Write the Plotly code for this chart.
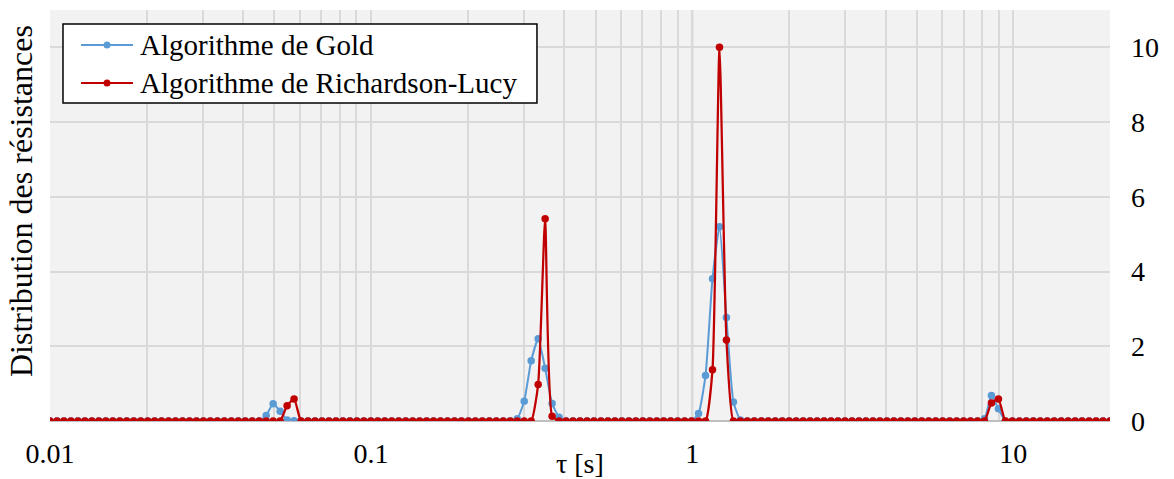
import numpy as np
import plotly.graph_objects as go

# sampling grid: evenly spaced in log(tau), 153 points from 0.01 s to 20 s
n_points = 153
tau = np.logspace(-2, np.log10(20), n_points)

# nonzero samples (index in grid, value); all other samples are 0
gold_idx = [31, 32, 33, 34, 35,
            67, 68, 69, 70, 71, 72, 73,
            93, 94, 95, 96, 97, 98, 99,
            134, 135, 136]
gold_val = [0.15, 0.46, 0.26, 0.03, 0.01,
            0.06, 0.53, 1.61, 2.20, 1.41, 0.47, 0.10,
            0.20, 1.22, 3.81, 5.20, 2.77, 0.51, 0.03,
            0.06, 0.68, 0.33]

rl_idx = [34, 35,
          70, 71, 72,
          95, 96, 97,
          135, 136]
rl_val = [0.41, 0.59,
          0.98, 5.41, 0.13,
          1.37, 10.0, 2.17,
          0.48, 0.59]

series_names = ["Algorithme de Gold", "Algorithme de Richardson-Lucy"]
x_tickvals = [0.01, 0.1, 1, 10]
x_ticktext = ["0.01", "0.1", "1", "10"]
y_tickvals = [0, 2, 4, 6, 8, 10]

gold = np.zeros(n_points)
gold[gold_idx] = gold_val
rl = np.zeros(n_points)
rl[rl_idx] = rl_val

FONT = "Liberation Serif, Times New Roman, serif"
BLUE = "#5b9bd5"
RED = "#c00000"
GRID = "#d9d9d9"
colors = [BLUE, RED]

minor_vals = [m * 10.0 ** e for e in range(-2, 2) for m in range(2, 10) if m * 10.0 ** e <= 20]

fig = go.Figure()
fig.add_trace(go.Scatter(
    x=tau, y=gold, mode="lines+markers", name=series_names[0],
    line=dict(color=BLUE, width=2, shape="spline", smoothing=0.5),
    marker=dict(color=BLUE, size=7.5),
))
fig.add_trace(go.Scatter(
    x=tau, y=rl, mode="lines+markers", name=series_names[1],
    line=dict(color=RED, width=2.25, shape="spline", smoothing=0.5),
    marker=dict(color=RED, size=7.5),
))

# page body has an 8px margin: figure is shrunk so the plot area lands where the reference has it
shapes = [
    dict(type="line", xref="x", yref="paper", x0=1, x1=1, y0=0, y1=1,
         line=dict(color="#bfbfbf", width=2), layer="below"),
    # legend box
    dict(type="rect", xref="paper", yref="paper", x0=0.01226, x1=0.4594, y0=0.7737, y1=0.9659,
         fillcolor="white", line=dict(color="black", width=1.5), layer="above"),
]
annotations = [
    dict(text="τ [s]", xref="paper", yref="paper", x=0.5, y=-0.1046,
         xanchor="center", yanchor="middle", showarrow=False,
         font=dict(family=FONT, size=28, color="black")),
    dict(text="Distribution des résistances", xref="paper", yref="paper",
         x=-0.0278, y=0.534, xanchor="center", yanchor="middle",
         textangle=-90, showarrow=False,
         font=dict(family=FONT, size=32, color="black")),
]
legend_rows_y = [0.9148, 0.8224]
for name, col, yy in zip(series_names, colors, legend_rows_y):
    shapes.append(dict(type="line", xref="paper", yref="paper", x0=0.02925, x1=0.0783, y0=yy, y1=yy,
                       line=dict(color=col, width=2), layer="above"))
    shapes.append(dict(type="circle", xref="paper", yref="paper", xsizemode="pixel", ysizemode="pixel",
                       xanchor=0.0538, yanchor=yy, x0=-3.5, x1=3.5, y0=-3.5, y1=3.5,
                       fillcolor=col, line=dict(color=col, width=0), layer="above"))
    annotations.append(dict(text=name, xref="paper", yref="paper", x=0.0830, y=yy,
                            xanchor="left", yanchor="middle", showarrow=False,
                            font=dict(family=FONT, size=29, color="black")))

fig.update_layout(
    width=1166, height=471,
    margin=dict(l=42, r=64, t=2, b=58, pad=0),
    paper_bgcolor="white", plot_bgcolor="#f2f2f2",
    font=dict(family=FONT, size=28, color="black"),
    showlegend=False,
    xaxis=dict(
        type="log", range=[-2, np.log10(20)], automargin=False,
        tickvals=x_tickvals, ticktext=x_ticktext, ticks="",
        showgrid=True, gridcolor=GRID, gridwidth=1.5,
        minor=dict(tickvals=minor_vals, showgrid=True, gridcolor=GRID, gridwidth=1.5, ticks=""),
        showline=False, zeroline=False,
        tickfont=dict(family=FONT, size=28, color="black"),
        ticklabelstandoff=13,
    ),
    yaxis=dict(
        side="right", range=[0, 11], automargin=False,
        tickvals=y_tickvals, ticks="",
        showgrid=True, gridcolor=GRID, gridwidth=1.5,
        zeroline=True, zerolinecolor="#bfbfbf", zerolinewidth=2,
        showline=False,
        tickfont=dict(family=FONT, size=28, color="black"),
        ticklabelstandoff=20,
    ),
    shapes=shapes,
    annotations=annotations,
)

fig.write_html("out.html")
